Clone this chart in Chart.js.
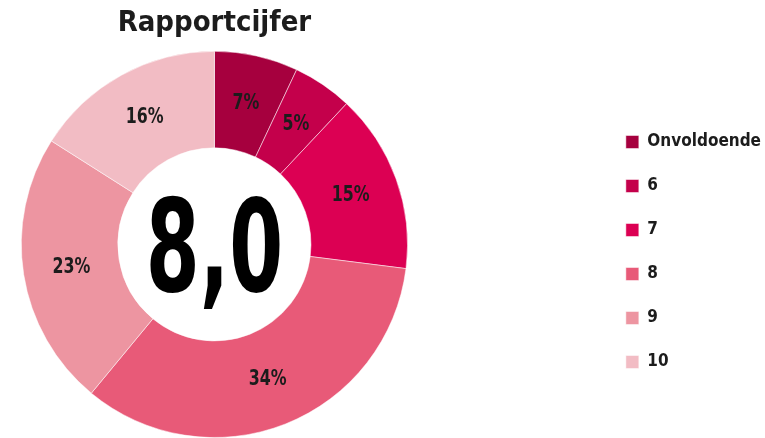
<!DOCTYPE html>
<html>
<head>
<meta charset="utf-8">
<title>Rapportcijfer</title>
<script src="https://cdn.jsdelivr.net/npm/chart.js@4/dist/chart.umd.min.js"></script>
<style>
  html, body { margin: 0; padding: 0; background: #fff; }
  #wrap { width: 765px; height: 438px; position: relative; overflow: hidden; }
  /* wider canvas shifted left so the doughnut sits left with the legend far right */
  #inner { position: absolute; left: -170px; top: 0; width: 950px; height: 438px; }
</style>
</head>
<body>
<div id="wrap"><div id="inner"><canvas id="myChart"></canvas></div></div>
<script>
'use strict';

// data
let grades = ['Onvoldoende', '6', '7', '8', '9', '10'];
let percentages = [7, 5, 15, 34, 23, 16];
let averageGrade = '8,0';

let sliceColors = ['#a6003e', '#c4004b', '#dc0053', '#e85a78', '#ed95a1', '#f2bcc4'];
let fontFamily = "'DejaVu Sans Condensed', 'Liberation Sans Narrow', sans-serif";

// percentages inside the slices + the big grade in the hole
const sliceLabels = {
  id: 'sliceLabels',
  afterDatasetsDraw(chart) {
    let ctx = chart.ctx;
    let meta = chart.getDatasetMeta(0);
    ctx.save();
    ctx.font = 'bold 22px ' + fontFamily;
    ctx.fillStyle = '#1c1c1c';
    ctx.textAlign = 'center';
    ctx.textBaseline = 'middle';
    meta.data.forEach(function (arc, i) {
      let p = arc.tooltipPosition();
      ctx.save();
      ctx.translate(p.x, p.y);
      ctx.scale(0.8, 1);
      ctx.fillText(percentages[i] + '%', 0, 0);
      ctx.restore();
    });

    let first = meta.data[0];
    ctx.translate(first.x, first.y);
    ctx.scale(0.73, 1.08);
    ctx.font = 'bold 118px ' + fontFamily;
    ctx.fillStyle = '#000';
    ctx.textBaseline = 'alphabetic';
    ctx.fillText(averageGrade, 0, 43);
    ctx.restore();
  }
};

let ctx = document.getElementById('myChart').getContext('2d');
let myChart = new Chart(ctx, {
  type: 'doughnut',
  data: {
    labels: grades,
    datasets: [{
      data: percentages,
      backgroundColor: sliceColors,
      borderColor: 'rgba(255, 255, 255, 0.5)',
      borderWidth: 1
    }]
  },
  options: {
    responsive: true,
    maintainAspectRatio: false,
    animation: false,
    cutout: '50%',
    layout: {
      padding: { left: 0, right: 9, top: 0, bottom: 0 }
    },
    plugins: {
      title: {
        display: true,
        fullSize: false,
        text: 'Rapportcijfer',
        color: '#1c1c1c',
        font: { family: fontFamily, size: 29, weight: 'bold' },
        padding: { top: 6, bottom: 10 }
      },
      legend: {
        position: 'right',
        title: {
          display: true,
          text: '',
          font: { size: 10 },
          padding: { top: 54, bottom: 0 }
        },
        labels: {
          boxWidth: 13,
          boxHeight: 13,
          padding: 27,
          color: '#1c1c1c',
          font: { family: fontFamily, size: 17, weight: 'bold' }
        }
      },
      tooltip: { enabled: false }
    }
  },
  plugins: [sliceLabels]
});
</script>
</body>
</html>
